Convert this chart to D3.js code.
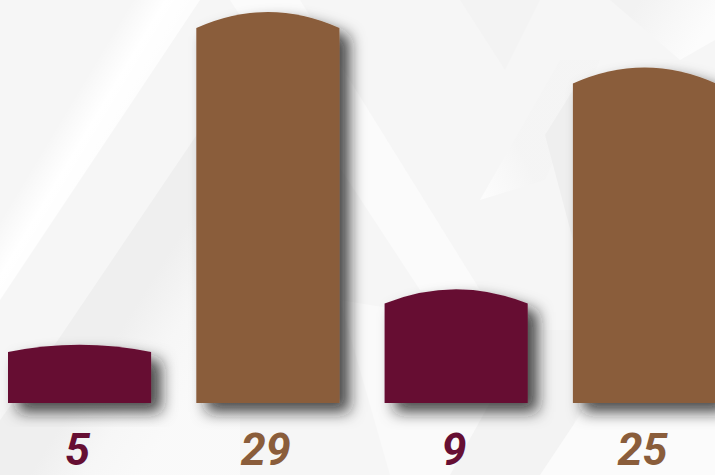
<!DOCTYPE html>
<html>
<head>
<meta charset="utf-8">
<script src="https://cdn.jsdelivr.net/npm/d3@7/dist/d3.min.js"></script>
<style>
  html, body { margin: 0; padding: 0; background: #f7f7f7; }
  svg { display: block; }
</style>
</head>
<body>
<svg id="chart" width="715" height="475"></svg>
<script>
const categories = ["A", "B", "C", "D"];
const values = [5, 29, 9, 25];
const labels = ["5", "29", "9", "25"];
const barColors = ["#660f33", "#8a5d3b", "#660f33", "#8a5d3b"];

const W = 715, H = 475;
const svg = d3.select("#chart");
const defs = svg.append("defs");

// background
svg.append("rect").attr("width", W).attr("height", H).attr("fill", "#f6f6f6");

function grad(id, x1, y1, x2, y2, stops) {
  const g = defs.append("linearGradient").attr("id", id)
    .attr("gradientUnits", "userSpaceOnUse")
    .attr("x1", x1).attr("y1", y1).attr("x2", x2).attr("y2", y2);
  stops.forEach(s => g.append("stop").attr("offset", s[0]).attr("stop-color", s[1]).attr("stop-opacity", s[2]));
}
grad("g1", 60, 120, 160, 180, [[0, "#ffffff", 0], [0.25, "#ffffff", 1], [1, "#ffffff", 0.3]]);
grad("g2", 120, 330, 200, 380, [[0, "#ececec", 1], [0.5, "#f7f7f7", 1], [1, "#fbfbfb", 1]]);
grad("g3", 420, 200, 520, 150, [[0, "#ffffff", 0.2], [0.5, "#ffffff", 1], [1, "#f4f4f4", 1]]);
grad("g4", 600, 200, 700, 260, [[0, "#efefef", 1], [1, "#fafafa", 1]]);
grad("g5", 640, 0, 700, 40, [[0, "#f2f2f2", 1], [1, "#fcfcfc", 1]]);

const bg = svg.append("g");
bg.append("path").attr("d", "M0,160 L107,0 L200,0 L0,300 Z").attr("fill", "url(#g1)");
bg.append("path").attr("d", "M58,340 L200,130 L240,130 L240,475 L0,475 L0,420 Z").attr("fill", "url(#g2)").attr("opacity", 0.7);
bg.append("path").attr("d", "M230,0 L300,0 L480,290 L420,290 Z").attr("fill", "#fbfbfb");
bg.append("path").attr("d", "M460,0 L540,0 L505,70 Z").attr("fill", "#f3f3f3");
bg.append("path").attr("d", "M480,200 L560,60 L600,60 L545,180 Z").attr("fill", "url(#g3)").attr("opacity", 0.7);
bg.append("path").attr("d", "M340,300 L520,330 L580,475 L390,475 Z").attr("fill", "#fafafa");
bg.append("path").attr("d", "M450,475 L530,330 L600,330 L560,475 Z").attr("fill", "#f3f3f3");
bg.append("path").attr("d", "M545,135 L573,90 L573,240 Z").attr("fill", "url(#g4)");
bg.append("path").attr("d", "M610,0 L715,0 L715,40 L680,60 Z").attr("fill", "url(#g5)");
bg.append("path").attr("d", "M540,475 L590,400 L715,400 L715,475 Z").attr("fill", "#fbfbfb");

// shadow filter
const f = defs.append("filter").attr("id", "shadow")
  .attr("x", "-30%").attr("y", "-30%").attr("width", "170%").attr("height", "170%");
f.append("feDropShadow").attr("dx", 10).attr("dy", 9).attr("stdDeviation", 7.5)
  .attr("flood-color", "#1a1a1a").attr("flood-opacity", 0.8);

const x = d3.scaleBand().domain(categories).range([8, 716]).paddingInner(0.24).paddingOuter(0);
const y = d3.scaleLinear().domain([0.8, 29]).range([403, 12]);

function barPath(d, i) {
  const x0 = x(categories[i]), x1 = x0 + x.bandwidth();
  const base = y(0.8);
  const peak = y(d);
  const h = base - peak;
  const rise = Math.min(16, h * 0.125);
  const corner = peak + rise;
  const xc = (x0 + x1) / 2;
  return `M${x0},${base} L${x0},${corner} Q${xc},${corner - 2 * rise} ${x1},${corner} L${x1},${base} Z`;
}

svg.append("g").selectAll("path").data(values).join("path")
  .attr("d", (d, i) => barPath(d, i))
  .attr("fill", (d, i) => barColors[i])
  .attr("filter", "url(#shadow)");

svg.append("g").selectAll("text").data(labels).join("text")
  .attr("x", (d, i) => x(categories[i]) + x.bandwidth() / 2 - 2)
  .attr("y", 465)
  .attr("text-anchor", "middle")
  .attr("font-family", "Roboto, 'Liberation Sans', sans-serif")
  .attr("font-weight", "bold")
  .attr("font-style", "italic")
  .attr("font-size", 45)
  .attr("fill", (d, i) => barColors[i])
  .text(d => d);
</script>
</body>
</html>
